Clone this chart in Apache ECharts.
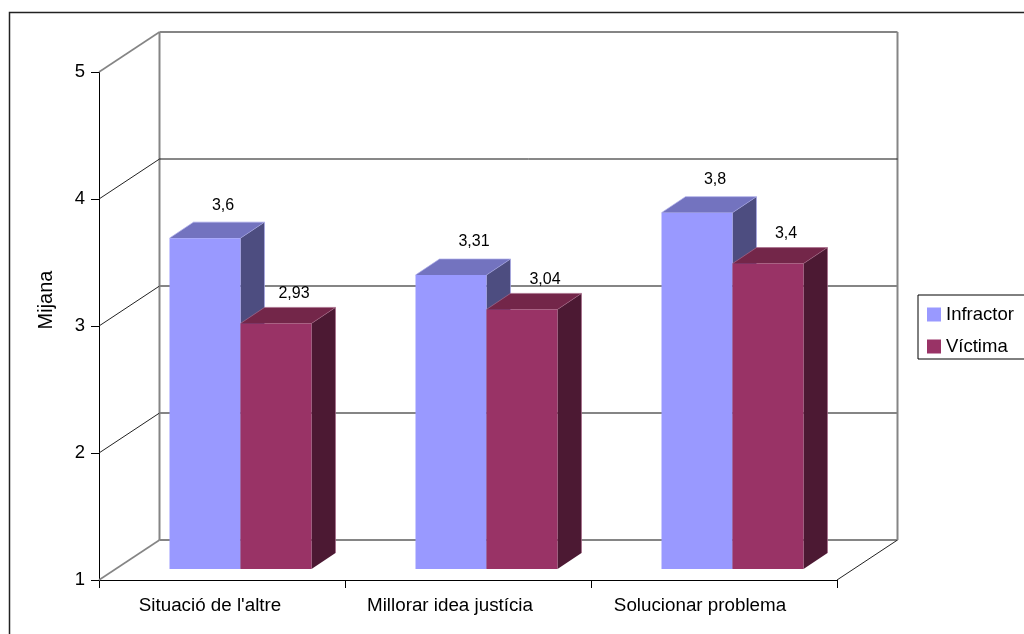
<!DOCTYPE html>
<html><head><meta charset="utf-8">
<style>html,body{margin:0;padding:0;background:#fff}#c{width:1024px;height:634px}</style>
<script src="https://cdn.jsdelivr.net/npm/echarts@6/dist/echarts.min.js"></script>
</head><body><div id="c"></div>
<script>
var categories = ["Situació de l'altre", "Millorar idea justícia", "Solucionar problema"];
var infractor = [3.6, 3.31, 3.8];
var victima = [2.93, 3.04, 3.4];
var yTicks = [1, 2, 3, 4, 5];
var valueLabels = {Infractor: ["3,6", "3,31", "3,8"], "Víctima": ["2,93", "3,04", "3,4"]};

var FONT = '"Liberation Sans", Arial, sans-serif';
var DEPTH = [60.5, -40];
var BAR = {w: 71, dx: 70.5, lift: 11, sx: 24, sy: -16, k: 1.002};
var GREY = '#858585';
var labelNudge = [0, 5, 0];
var richShift = {};
[24, 36, 28].forEach(function (p, i) { richShift['c' + i] = {padding: [0, p, 0, 0], fontSize: 18.8, color: '#000', fontFamily: FONT}; });

function barItem(series, idx, face, top, side, lbl) {
  return function (params, api) {
    var i = api.value(0), v = api.value(1);
    var band = api.size([1, 0])[0];
    var c = api.coord([i, 1]);
    var x0 = c[0] - band / 2 + BAR.dx + idx * BAR.w;
    var base = c[1] - BAR.lift;
    var h = (api.coord([i, 1])[1] - api.coord([i, v])[1]) * BAR.k;
    var y = base - h, w = BAR.w, sx = BAR.sx, sy = BAR.sy;
    return {type: 'group', children: [
      {type: 'polygon', shape: {points: [[x0 + w, base], [x0 + w + sx, base + sy], [x0 + w + sx, y + sy], [x0 + w, y]]}, style: {fill: side}},
      {type: 'polygon', shape: {points: [[x0, y], [x0 + sx, y + sy], [x0 + w + sx, y + sy], [x0 + w, y]]}, style: {fill: top}},
      {type: 'rect', shape: {x: x0, y: y, width: w, height: h}, style: {fill: face}},
      {type: 'polyline', shape: {points: [[x0, y], [x0 + sx, y + sy], [x0 + w + sx, y + sy], [x0 + w + sx, base + sy]]}, style: {fill: 'none', stroke: lbl.edge, lineWidth: 0.7}},
      {type: 'line', shape: {x1: x0 + w, y1: y, x2: x0 + w + sx, y2: y + sy}, style: {stroke: lbl.edge, lineWidth: 0.5}},
      {type: 'text', style: {x: x0 + w / 2 + sx / 2 + lbl.dx + labelNudge[i], y: y + sy + lbl.dy, text: valueLabels[series][i], fill: '#000', font: '16px ' + FONT, align: 'center', verticalAlign: 'middle'}}
    ]};
  };
}

function wallItem(params, api) {
  var v = api.value(0);
  var size = api.size([1, 0])[0];
  var p = api.coord([0, v]);
  var left = p[0] - size / 2, right = left + size * categories.length;
  var y = p[1];
  var edge = (v === 1 || v === 5);
  var heavy = (v !== 4);
  var kids = [
    {type: 'line', shape: {x1: left, y1: y, x2: left + DEPTH[0], y2: y + DEPTH[1]}, style: {stroke: edge ? GREY : '#222', lineWidth: edge ? 1.6 : 1}},
    {type: 'line', shape: {x1: left + DEPTH[0], y1: y + DEPTH[1], x2: right + DEPTH[0], y2: y + DEPTH[1]}, style: {stroke: heavy ? GREY : '#111', lineWidth: heavy ? 2 : 1}}
  ];
  if (v === 1) {
    kids.push({type: 'line', shape: {x1: right, y1: y, x2: right + DEPTH[0], y2: y + DEPTH[1]}, style: {stroke: '#222', lineWidth: 1}});
    var t = api.coord([0, 5])[1] + DEPTH[1];
    kids.push({type: 'line', shape: {x1: left + DEPTH[0], y1: y + DEPTH[1], x2: left + DEPTH[0], y2: t}, style: {stroke: GREY, lineWidth: 2}});
    kids.push({type: 'line', shape: {x1: right + DEPTH[0], y1: y + DEPTH[1], x2: right + DEPTH[0], y2: t}, style: {stroke: GREY, lineWidth: 2}});
  }
  return {type: 'group', children: kids};
}

var chart = echarts.init(document.getElementById('c'), null, {renderer: 'canvas'});
chart.setOption({
  animation: false,
  backgroundColor: '#fff',
  textStyle: {fontFamily: FONT},
  graphic: [
    {type: 'rect', silent: true, z: 0, shape: {x: 9.5, y: 12.5, width: 1030, height: 640}, style: {fill: 'none', stroke: '#222', lineWidth: 1.5}},
    {type: 'text', silent: true, z: 5, x: 46, y: 300, rotation: Math.PI / 2, style: {text: 'Mijana', fill: '#000', font: '20px ' + FONT, align: 'center', verticalAlign: 'middle'}}
  ],
  grid: {left: 99, right: 187, top: 72, bottom: 54},
  legend: {
    orient: 'vertical', left: 918, top: 295, padding: [10, 14, 3, 9],
    data: ['Infractor', 'Víctima'], itemWidth: 14, itemHeight: 14, itemGap: 13,
    borderColor: '#000', borderWidth: 1, borderRadius: 0, backgroundColor: '#fff',
    textStyle: {fontSize: 18.5, color: '#000', fontFamily: FONT}, icon: 'rect', selectedMode: false
  },
  xAxis: {
    type: 'category', data: categories,
    axisLine: {lineStyle: {color: '#000', width: 1}},
    axisTick: {show: true, length: 8, alignWithLabel: false, lineStyle: {color: '#000'}},
    axisLabel: {color: '#000', fontSize: 18.8, margin: 16, fontFamily: FONT, interval: 0, rich: richShift,
      formatter: function (value, index) { return '{c' + index + '|' + value + '}'; }},
    splitLine: {show: false}
  },
  yAxis: {
    type: 'value', min: 1, max: 5, interval: 1,
    axisLine: {show: true, lineStyle: {color: '#000', width: 1}},
    axisTick: {show: true, length: 8, lineStyle: {color: '#000'}},
    axisLabel: {color: '#000', fontSize: 18.5, margin: 14, fontFamily: FONT},
    splitLine: {show: false}
  },
  series: [
    {type: 'custom', name: 'walls', silent: true, z: 1, renderItem: wallItem, encode: {y: 0}, coordinateSystem: 'cartesian2d', data: yTicks.map(function (v) { return [v]; })},
    {type: 'custom', name: 'Infractor', z: 3, itemStyle: {color: '#9999FF'},
      renderItem: barItem('Infractor', 0, '#9999FF', '#7373BF', '#4D4D80', {dx: 6, dy: -17, edge: '#A8A8E8'}),
      encode: {x: 0, y: 1}, data: infractor.map(function (v, i) { return [i, v]; })},
    {type: 'custom', name: 'Víctima', z: 4, itemStyle: {color: '#993366'},
      renderItem: barItem('Víctima', 1, '#993366', '#732649', '#4C1933', {dx: 6, dy: -13.5, edge: '#A86A8A'}),
      encode: {x: 0, y: 1}, data: victima.map(function (v, i) { return [i, v]; })}
  ]
});
</script></body></html>
